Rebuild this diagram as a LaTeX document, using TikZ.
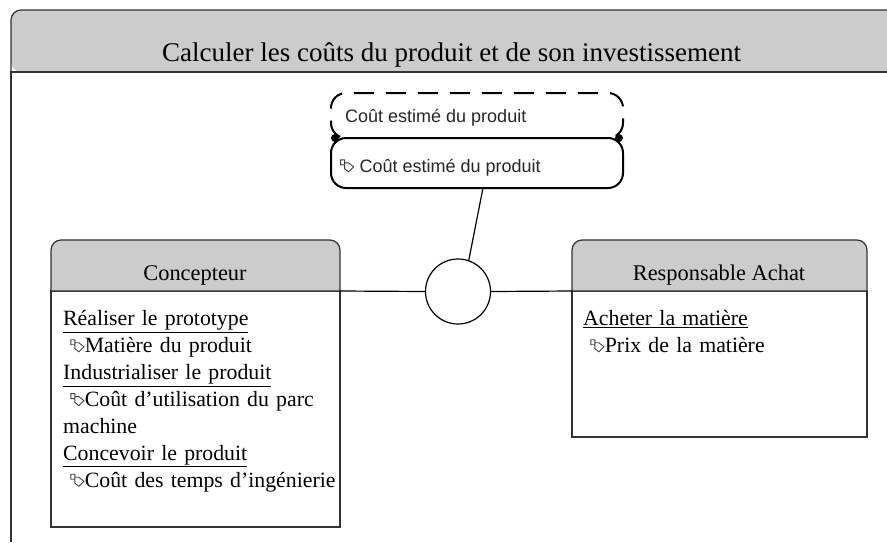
\documentclass[tikz,border=0pt]{standalone}
\usepackage{fontspec}
\setmainfont{Liberation Serif}
\newfontfamily\etiq{Liberation Sans}
\usetikzlibrary{positioning}
\newcommand{\icone}{\tikz[baseline=-1pt,x=1pt,y=1pt,line width=.9pt,black!75]{
    \draw (0,12) -- (0,7) -- (4,7) -- (4,12) -- cycle (4,9) -- (8,9) -- (13,5) -- (8,0) -- (4,3) -- (4,7);}\hspace{.5pt}}

\begin{document}
\begin{tikzpicture}[x=1pt,y=-1pt,
    entete/.style={draw=black!80,line width=1.2pt,fill=black!20},
    corps/.style={draw=black!80,line width=1.2pt},
    liste/.style={anchor=north west,align=left,font=\fontsize{21.8}{26.9}\selectfont,inner sep=0pt,text width=285pt},
    capsule/.style={line width=2pt,rounded corners=15pt},
    etiquette/.style={anchor=west,inner sep=0pt,font=\etiq\fontsize{18}{20}\selectfont,black!85}]
\useasboundingbox (0,0) rectangle (887,542);
% cadre
\fill[black!20,rounded corners=10pt] (11,72) -- (11,10) -- (897,10) -- (897,72) -- cycle;
\draw[corps,rounded corners=10pt] (11,72) -- (11,10) -- (887,10);
\draw[corps] (887,72) -- (11,72) -- (11,542);
\node (titre) at (451.5,55) {\fontsize{27}{32}\selectfont Calculer les coûts du produit et de son investissement};
% capsule
\draw[capsule,dash pattern=on 20pt off 12pt,dash phase=22pt] (350,138) -- (331,138) -- (331,93) -- (623,93) -- (623,138) -- (604,138);
\draw[capsule,fill=white] (477,138) -- (331,138) -- (331,188) -- (623,188) -- (623,138) -- cycle;
\fill (335,138) circle (4pt) (619,138) circle (4pt);
\node[etiquette] (objet) at (345,118) {Coût estimé du produit};
\node[etiquette] (attribut) at (340,168) {\icone\ Coût estimé du produit};
\coordinate (capsule-s) at (483,188);
% roles
\draw[corps] (51,291) rectangle (340,527);
\draw[entete] (51,291) [rounded corners=10pt] -- (51,240) -- (340,240) [sharp corners] -- (340,291) -- cycle;
\draw[corps] (572,291) rectangle (867,437);
\draw[entete] (572,291) [rounded corners=10pt] -- (572,240) -- (867,240) [sharp corners] -- (867,291) -- cycle;
\node (concepteur) at (195,275) {\fontsize{22.4}{26}\selectfont Concepteur};
\node (responsable) at (719,275) {\fontsize{22.4}{26}\selectfont Responsable Achat};
\coordinate (concepteur-e) at (340,291);
\coordinate (responsable-w) at (572,291);
\node[circle,draw,fill=white,line width=1.2pt,minimum size=65pt,inner sep=0pt] (liaison) at (458,291.5) {};
\path[-,line width=1.2pt]
    (concepteur-e) edge (liaison.west)
    (liaison.east) edge (responsable-w)
    (capsule-s) edge (liaison.71);
\node[liste] (taches) at (63,310.5) {\underline{Réaliser le prototype}\\
    \ \icone Matière du produit\\
    \underline{Industrialiser le produit}\\
    \ \icone Coût d’utilisation du parc\\
    machine\\
    \underline{Concevoir le produit}\\
    \ \icone Coût des temps d’ingénierie};
\node[liste] (achats) at (583,310.5) {\underline{Acheter la matière}\\
    \ \icone Prix de la matière};
\end{tikzpicture}
\end{document}
